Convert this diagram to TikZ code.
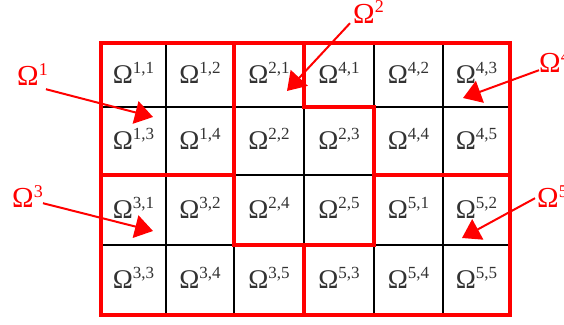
\documentclass[tikz,border=0pt]{standalone}
\usepackage{fontspec}
\setmainfont{Liberation Serif}
\usepackage{xcolor}
\usetikzlibrary{arrows.meta}
\definecolor{regred}{RGB}{255, 0, 0}
\definecolor{celltxt}{RGB}{50, 50, 50}
\tikzset{
  % Setka chiziqlari
  gridline/.style  = {draw=black, line width=1.3pt},
  regline/.style   = {draw=regred, line width=4.2pt, line join=miter},
  % Etiketlar
  celllab/.style   = {text=celltxt, font=\fontsize{27}{27}\selectfont, inner sep=0pt, anchor=base},
  reglab/.style    = {text=regred, font=\fontsize{29}{29}\selectfont, inner sep=0pt},
  % O'qlar
  regarrow/.style  = {draw=regred, line width=2pt, -{Triangle[length=18pt, width=23pt]}},
}
\newcommand{\cellom}[1]{Ω\raisebox{10pt}{\fontsize{17}{17}\selectfont #1}}
\newcommand{\regom}[1]{Ω\raisebox{10pt}{\fontsize{18}{18}\selectfont #1}}

\begin{document}
\begin{tikzpicture}[x=1pt, y=-1pt]
  \useasboundingbox (0,0) rectangle (564,324);
  \def\colx{{101,166,234,304,374,443,510}}
  \def\rowy{{43,107,175,245,315}}
  % setka tugunlari
  \foreach \i in {0,...,6} {
    \foreach \j in {0,...,4} {
      \pgfmathsetmacro{\gx}{\colx[\i]}
      \pgfmathsetmacro{\gy}{\rowy[\j]}
      \coordinate (g\i\j) at (\gx,\gy);
    }
  }
  % ichki qora chiziqlar
  \foreach \i in {1,...,5} \draw[gridline] (g\i0) -- (g\i4);
  \foreach \j in {1,2,3} \draw[gridline] (g0\j) -- (g6\j);
  % kataklar: qator/ustun/yorliq
  \foreach \r/\c/\lab in {
      1/1/{1,1}, 1/2/{1,2}, 1/3/{2,1}, 1/4/{4,1}, 1/5/{4,2}, 1/6/{4,3},
      2/1/{1,3}, 2/2/{1,4}, 2/3/{2,2}, 2/4/{2,3}, 2/5/{4,4}, 2/6/{4,5},
      3/1/{3,1}, 3/2/{3,2}, 3/3/{2,4}, 3/4/{2,5}, 3/5/{5,1}, 3/6/{5,2},
      4/1/{3,3}, 4/2/{3,4}, 4/3/{3,5}, 4/4/{5,3}, 4/5/{5,4}, 4/6/{5,5}} {
    \pgfmathtruncatemacro{\cp}{\c-1}
    \pgfmathtruncatemacro{\rp}{\r-1}
    \pgfmathsetmacro{\xa}{\colx[\cp]}
    \pgfmathsetmacro{\xb}{\colx[\c]}
    \pgfmathsetmacro{\ya}{\rowy[\rp]}
    \pgfmathsetmacro{\yb}{\rowy[\r]}
    \node[celllab] (c\r\c) at ({(\xa+\xb)/2},{(\ya+\yb)/2+8}) {\cellom{\lab}};
  }
  % sohalar chegaralari
  \draw[regline] (g00) -- (g20) -- (g22) -- (g02) -- cycle;
  \draw[regline] (g20) -- (g30) -- (g31) -- (g41) -- (g43) -- (g23) -- cycle;
  \draw[regline] (g30) -- (g60) -- (g62) -- (g42) -- (g41) -- (g31) -- cycle;
  \draw[regline] (g02) -- (g22) -- (g23) -- (g33) -- (g34) -- (g04) -- cycle;
  \draw[regline] (g42) -- (g62) -- (g64) -- (g34) -- (g33) -- (g43) -- cycle;
  % soha nomlari
  \node[reglab, anchor=base west] (om1) at (17,85) {\regom{1}};
  \node[reglab, anchor=base west] (om2) at (353,23) {\regom{2}};
  \node[reglab, anchor=base west] (om3) at (12,207) {\regom{3}};
  \node[reglab, anchor=base west] (om4) at (539,72) {\regom{4}};
  \node[reglab, anchor=base west] (om5) at (537,207) {\regom{5}};
  % o'q uchlari
  \coordinate (tip1) at (153,117);
  \coordinate (tip2) at (287,91);
  \coordinate (tip3) at (153,231);
  \coordinate (tip4) at (463,98);
  \coordinate (tip5) at (462,238);
  \draw[regarrow] ([shift={(-2,4)}]om1.south east) -- (tip1);
  \draw[regarrow] ([shift={(-3,0)}]om2.south west) -- (tip2);
  \draw[regarrow] ([shift={(0,-4)}]om3.south east) -- (tip3);
  \draw[regarrow] ([shift={(0,-2)}]om4.south west) -- (tip4);
  \draw[regarrow] ([shift={(-2,-9)}]om5.south west) -- (tip5);
\end{tikzpicture}
\end{document}
